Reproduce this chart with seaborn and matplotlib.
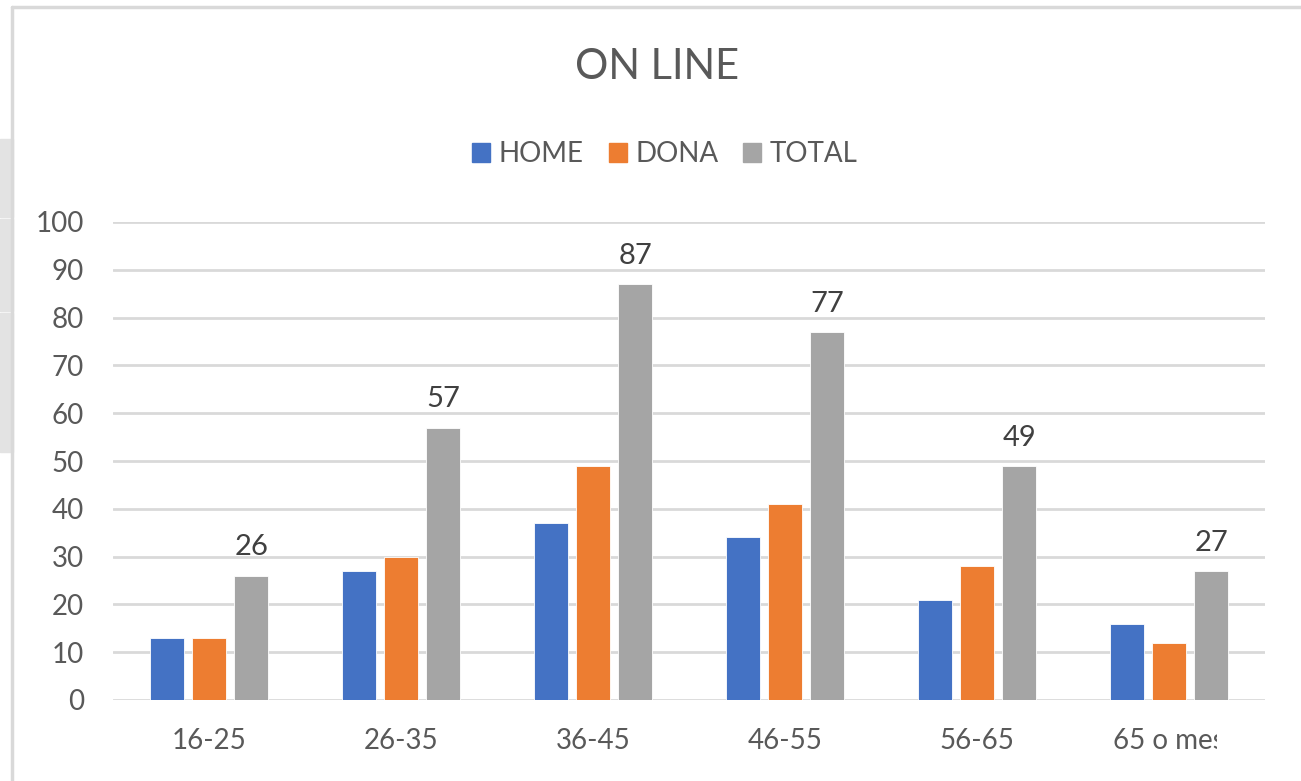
import pandas as pd
import numpy as np
import matplotlib
matplotlib.use('Agg')
import matplotlib.pyplot as plt
from matplotlib.patches import Rectangle
from matplotlib.transforms import Bbox, TransformedBbox
import seaborn as sns

# age groups and series
grups = ['16-25', '26-35', '36-45', '46-55', '56-65', '65 o mes']
home = [13, 27, 37, 34, 21, 16]
dona = [13, 30, 49, 41, 28, 12]
total = [26, 57, 87, 77, 49, 27]
series = ['HOME', 'DONA', 'TOTAL']
colors = ['#4472C4', '#ED7D31', '#A5A5A5']

# long format for seaborn
df = pd.DataFrame({
    'grup': grups * 3,
    'serie': ['HOME'] * 6 + ['DONA'] * 6 + ['TOTAL'] * 6,
    'valor': home + dona + total,
})

sns.set_style('white')
plt.rcParams['font.family'] = ['Lato', 'DejaVu Sans']

fig = plt.figure(figsize=(13.01, 7.81), dpi=100)
ax = fig.add_axes([113 / 1301, 1 - 700 / 781, (1265 - 113) / 1301, (700 - 222) / 781])

sns.barplot(data=df, x='grup', y='valor', hue='serie', hue_order=series,
            palette=colors, saturation=1, width=0.66, gap=0.2, ax=ax,
            legend=False, edgecolor='white', linewidth=0.6)

ax.set_ylim(0, 100)
ax.set_yticks(np.arange(0, 101, 10))
ax.set_xlabel('')
ax.set_ylabel('')
ax.yaxis.grid(True, color='#d9d9d9', linewidth=2)
ax.set_axisbelow(True)
for s in ax.spines.values():
    s.set_visible(False)
ax.tick_params(axis='both', length=0, labelsize=20, colors='#595959')
ax.tick_params(axis='y', pad=21)
ax.tick_params(axis='x', pad=20)

# values over the TOTAL bars
ax.bar_label(ax.containers[2], padding=11, fontsize=21, color='#404040')

# the last category label is cut off in the original
clip = TransformedBbox(Bbox([[0, 0], [1217 / 1301, 1]]), fig.transFigure)
lab = ax.get_xticklabels()[-1]
lab.set_clip_on(True)
lab.set_clip_box(clip)

# title and legend
fig.text(0.505, 1 - 67 / 781, 'ON LINE', ha='center', va='center',
         fontsize=30, color='#595959')
handles = [Rectangle((0, 0), 1, 1, color=c) for c in colors]
fig.legend(handles, series, loc='center', bbox_to_anchor=(0.511, 1 - 154 / 781),
           ncol=3, frameon=False, fontsize=20, labelcolor='#595959',
           handlelength=0.65, handleheight=0.65, handletextpad=0.3,
           columnspacing=0.9)

# chart frame (cut at right and bottom in the screenshot)
fig.add_artist(plt.Line2D([12 / 1301, 1], [1 - 7 / 781] * 2, color='#d9d9d9',
                          linewidth=2.5, transform=fig.transFigure))
fig.add_artist(plt.Line2D([12 / 1301] * 2, [0, 1 - 7 / 781], color='#d9d9d9',
                          linewidth=2.5, transform=fig.transFigure))
# spreadsheet header cells peeking in at the left edge
for y0, y1 in [(139, 217), (219, 311), (313, 452)]:
    fig.add_artist(Rectangle((0, 1 - y1 / 781), 13 / 1301, (y1 - y0) / 781,
                             color='#e3e3e3', transform=fig.transFigure))

fig.savefig('out.png', dpi=100)
